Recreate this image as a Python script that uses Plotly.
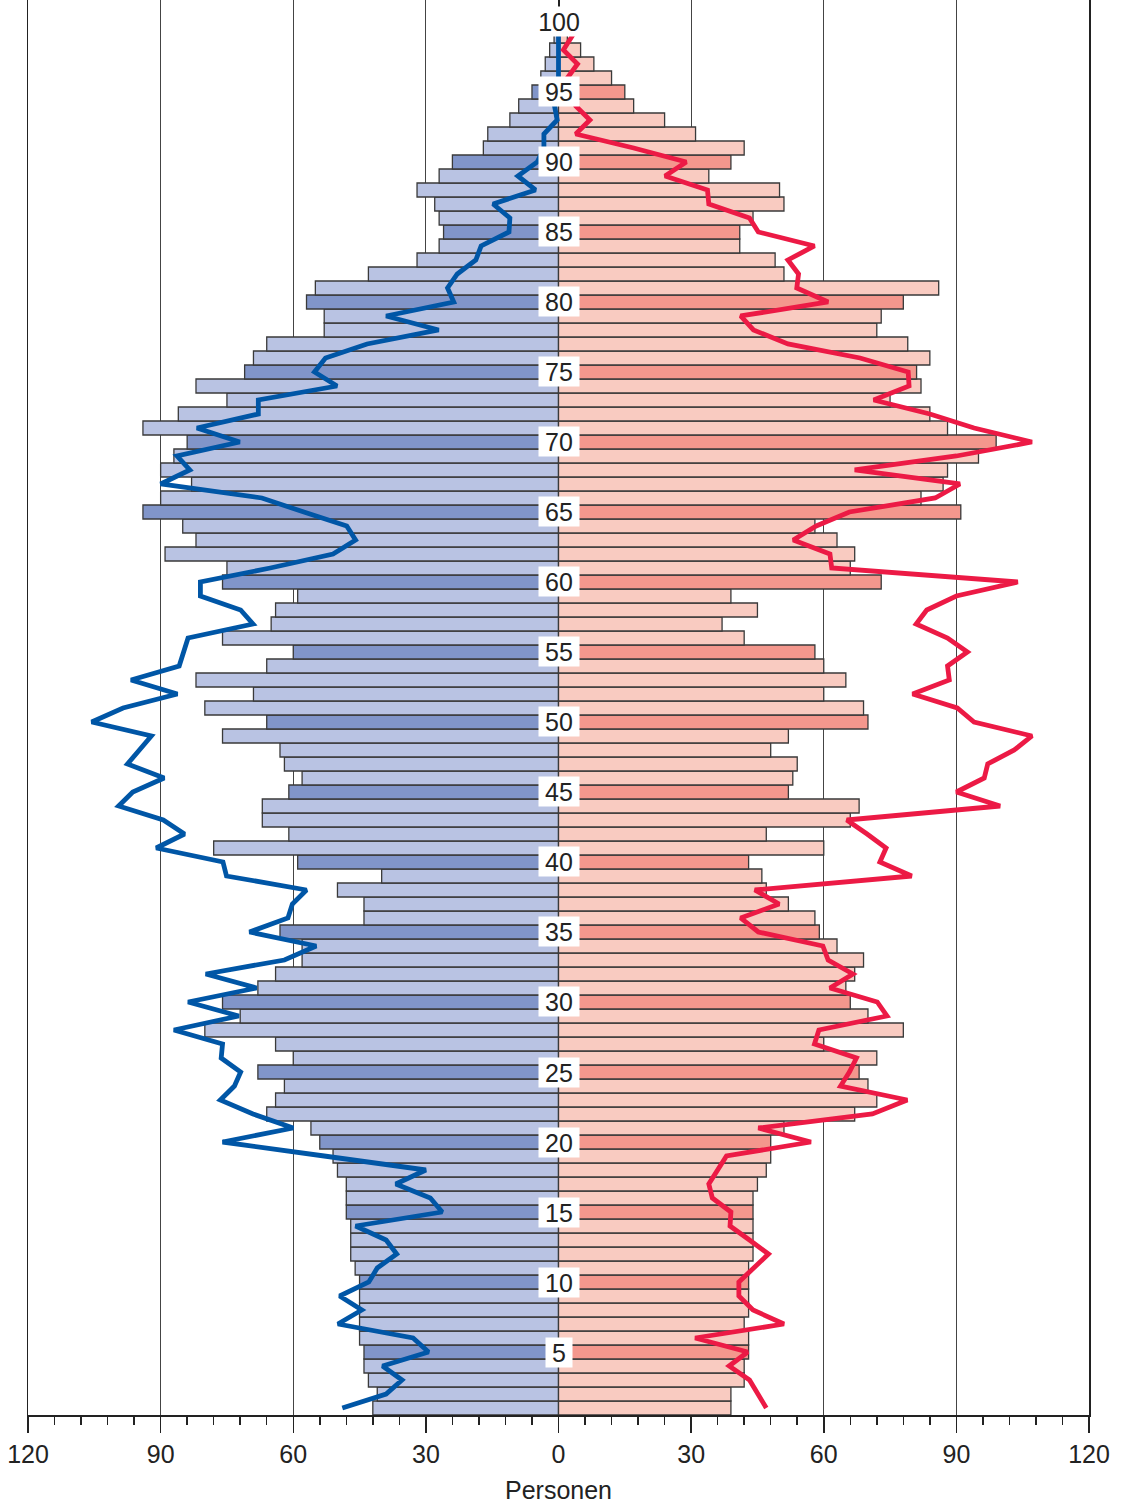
import plotly.graph_objects as go

ages = list(range(1, 101))

male_bars = [42, 41, 43, 44, 44, 45, 45, 45, 45, 45,
             46, 47, 47, 47, 48, 48, 48, 50, 51, 54,
             56, 66, 64, 62, 68, 60, 64, 80, 72, 76,
             68, 64, 58, 58, 63, 44, 44, 50, 40, 59,
             78, 61, 67, 67, 61, 58, 62, 63, 76, 66,
             80, 69, 82, 66, 60, 76, 65, 64, 59, 76,
             75, 89, 82, 85, 94, 90, 83, 90, 87, 84,
             94, 86, 75, 82, 71, 69, 66, 53, 53, 57,
             55, 43, 32, 27, 26, 27, 28, 32, 27, 24,
             17, 16, 11, 9, 6, 4, 3, 2, 1, 1]

female_bars = [39, 39, 42, 42, 43, 43, 42, 43, 43, 43,
               43, 44, 44, 44, 44, 44, 45, 47, 48, 48,
               51, 67, 72, 70, 68, 72, 60, 78, 70, 66,
               65, 67, 69, 63, 59, 58, 52, 47, 46, 43,
               60, 47, 66, 68, 52, 53, 54, 48, 52, 70,
               69, 60, 65, 60, 58, 42, 37, 45, 39, 73,
               66, 67, 63, 58, 91, 82, 87, 88, 95, 99,
               88, 84, 75, 82, 81, 84, 79, 72, 73, 78,
               86, 51, 49, 41, 41, 44, 51, 50, 34, 39,
               42, 31, 24, 17, 15, 12, 8, 5, 2, 1]

male_line = [48.9, 39.0, 35.4, 39.8, 29.4, 32.9, 49.9, 44.5, 49.5, 42.9,
             41.0, 36.6, 39.0, 45.9, 26.3, 29.0, 36.8, 30.0, 53.0, 76.0,
             60.0, 69.1, 76.5, 73.3, 71.9, 76.3, 76.0, 87.0, 72.3, 83.8,
             68.3, 79.8, 62.0, 54.8, 69.9, 61.2, 60.2, 57.0, 75.1, 75.9,
             91.0, 84.6, 89.4, 99.5, 96.3, 89.2, 97.5, 94.9, 92.1, 105.6,
             98.5, 86.2, 96.7, 85.8, 84.8, 83.8, 69.1, 71.9, 81.0, 81.0,
             65.2, 51.0, 45.9, 47.9, 57.6, 67.1, 90.0, 83.4, 86.3, 72.1,
             81.8, 67.9, 67.9, 50.1, 55.2, 52.7, 43.3, 27.1, 39.0, 23.7,
             25.1, 22.9, 18.7, 17.5, 11.2, 11.0, 14.8, 5.2, 9.2, 4.8,
             3.3, 3.3, 0.3, 0.9, 0.5, 0.0, 0.0, 0.0, 0.0, 0.0]

female_line = [47.0, 45.0, 43.2, 38.6, 42.8, 30.9, 51.0, 44.0, 40.8, 40.8,
               44.1, 47.5, 43.2, 38.8, 39.0, 34.8, 34.0, 36.0, 38.0, 57.1,
               45.2, 71.0, 78.9, 63.8, 65.8, 67.4, 57.9, 58.9, 74.3, 72.1,
               61.4, 66.6, 61.0, 59.8, 45.2, 41.2, 49.9, 44.4, 79.9, 72.7,
               74.1, 69.8, 65.2, 99.9, 90.0, 96.3, 97.1, 103.1, 107.1, 94.0,
               90.2, 80.1, 88.4, 88.0, 92.5, 88.0, 80.9, 83.3, 90.0, 103.9,
               61.8, 61.4, 53.1, 58.3, 65.8, 85.2, 90.8, 67.0, 90.0, 107.1,
               94.0, 84.0, 71.3, 79.3, 79.1, 68.2, 51.9, 44.1, 41.2, 61.0,
               53.9, 54.3, 51.9, 57.9, 45.2, 43.2, 34.0, 33.7, 24.1, 28.9,
               17.0, 3.9, 7.1, 3.9, 3.0, 2.0, 4.3, 1.1, 3.1, 2.0]

tick_vals = [-120, -90, -60, -30, 0, 30, 60, 90, 120]
tick_text = ["120", "90", "60", "30", "0", "30", "60", "90", "120"]
label_ages = list(range(5, 101, 5))
x_title = "Personen"

BLUE_L, BLUE_D = "#b9c3e3", "#8195c9"
RED_L, RED_D = "#f9cbc1", "#f4978d"
FONT = "Liberation Sans, Arial, sans-serif"

male_colors = [BLUE_D if a % 5 == 0 else BLUE_L for a in ages]
female_colors = [RED_D if a % 5 == 0 else RED_L for a in ages]

fig = go.Figure()
fig.add_trace(go.Bar(y=ages, x=[-v for v in male_bars], orientation="h",
                     width=1, marker=dict(color=male_colors,
                                          line=dict(color="#3a3a3a", width=1.3)),
                     showlegend=False, hoverinfo="skip"))
fig.add_trace(go.Bar(y=ages, x=female_bars, orientation="h",
                     width=1, marker=dict(color=female_colors,
                                          line=dict(color="#3a3a3a", width=1.3)),
                     showlegend=False, hoverinfo="skip"))
fig.add_trace(go.Scatter(y=ages, x=[-v for v in male_line], mode="lines",
                         line=dict(color="#0056a6", width=4.8),
                         showlegend=False, hoverinfo="skip"))
fig.add_trace(go.Scatter(y=ages, x=female_line, mode="lines",
                         line=dict(color="#ec1a45", width=4.8),
                         showlegend=False, hoverinfo="skip"))

for a in label_ages:
    t = str(a)
    fig.add_annotation(x=0, y=a, text=t, showarrow=False, xref="x", yref="y",
                       bgcolor="white", borderpad=0,
                       width=14 * len(t) + 12, height=29,
                       font=dict(family=FONT, size=25, color="#222222"))

fig.update_layout(
    width=1123, height=1508,
    margin=dict(l=28, r=34, t=0, b=93),
    paper_bgcolor="white", plot_bgcolor="white",
    barmode="overlay", bargap=0,
    font=dict(family=FONT, size=25, color="#222222"),
)
fig.update_xaxes(
    range=[-120, 120], tickvals=tick_vals, ticktext=tick_text,
    showgrid=True, gridcolor="#444444", gridwidth=1,
    zeroline=True, zerolinecolor="#222222", zerolinewidth=2,
    showline=True, linecolor="#222222", linewidth=2,
    ticks="outside", ticklen=16, tickwidth=1.5, tickcolor="#222222",
    minor=dict(dtick=6, tick0=0, ticks="outside", ticklen=8,
               tickwidth=1.5, tickcolor="#222222", showgrid=False),
    tickfont=dict(family=FONT, size=25, color="#222222"),
    title=dict(text=x_title, standoff=14,
               font=dict(family=FONT, size=25, color="#222222")),
    automargin=False,
)
fig.update_yaxes(
    range=[0.5, 101.57], showticklabels=False, ticks="",
    showgrid=False, zeroline=False, automargin=False,
    showline=True, mirror=True, linecolor="#222222", linewidth=1.5,
)

fig.write_html("out.html",
               config={"displayModeBar": False, "staticPlot": True},
               post_script="document.body.style.margin='0';document.body.style.overflow='hidden';")
